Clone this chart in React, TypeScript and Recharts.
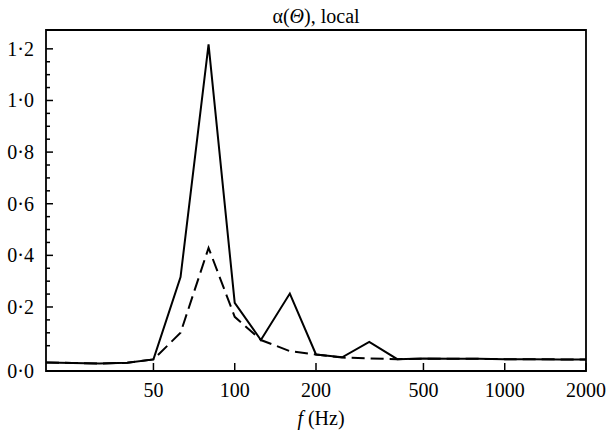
import { Label, Line, LineChart, ReferenceArea, XAxis, YAxis } from 'recharts'

const freqs = [20, 25, 31.5, 40, 50, 63, 80, 100, 125, 160, 200, 250, 315, 400, 500, 630, 800, 1000, 1250, 1600, 2000]
const alphaSolid = [-0.015, -0.017, -0.019, -0.016, -0.003, 0.316, 1.217, 0.216, 0.072, 0.252, 0.016, 0.005, 0.065, -0.002, 0.0, -0.001, -0.001, -0.002, -0.002, -0.003, -0.003]
const alphaDashed = [-0.015, -0.017, -0.019, -0.016, -0.003, 0.1, 0.429, 0.162, 0.072, 0.029, 0.016, 0.004, 0.001, -0.002, 0.0, -0.001, -0.001, -0.002, -0.002, -0.003, -0.003]

const xTicks = [50, 100, 200, 500, 1000, 2000]
const yMajorTicks = [0, 0.2, 0.4, 0.6, 0.8, 1.0, 1.2]
const yMinorTicks = [0.05, 0.1, 0.15, 0.25, 0.3, 0.35, 0.45, 0.5, 0.55, 0.65, 0.7, 0.75, 0.85, 0.9, 0.95, 1.05, 1.1, 1.15]
const xDomain = [20, 2000]
const yDomain = [-0.048, 1.273]

const data = freqs.map((f, i) => ({ f, solid: alphaSolid[i], dashed: alphaDashed[i] }))

const font = '"Liberation Serif", "Times New Roman", serif'

const fmt = (v: number) => v.toFixed(1).replace('.', '·')

function YTick(props: any) {
    const { x, y, payload } = props
    const v = payload.value
    const major = yMajorTicks.some((m) => Math.abs(m - v) < 1e-6)
    if (v === 0) {
        // the 0·0 label sits on the bottom frame line
        return (
            <text x={x - 12} y={371} dy='0.35em' textAnchor='end' fontFamily={font} fontSize={20} fill='#000'>
                {fmt(v)}
            </text>
        )
    }
    return (
        <g>
            <line x1={x} x2={x + (major ? 7 : 4)} y1={y} y2={y} stroke='#000' strokeWidth={1.5} />
            {major && (
                <text x={x - 12} y={y} dy='0.35em' textAnchor='end' fontFamily={font} fontSize={20} fill='#000'>
                    {fmt(v)}
                </text>
            )}
        </g>
    )
}

function XTick(props: any) {
    const { x, y, payload } = props
    return (
        <g>
            <line x1={x} x2={x} y1={y} y2={y - 8} stroke='#000' strokeWidth={1.5} />
            <text x={x} y={y + 26} textAnchor='middle' fontFamily={font} fontSize={20} fill='#000'>
                {payload.value}
            </text>
        </g>
    )
}

export default function App() {
    return (
        <div style={{ position: 'absolute', left: 0, top: 0, background: '#fff' }}>
            <LineChart width={611} height={436} data={data} margin={{ top: 30, right: 25, bottom: 0, left: 0 }}>
                <XAxis
                    dataKey='f'
                    type='number'
                    scale='log'
                    domain={xDomain}
                    ticks={xTicks}
                    interval={0}
                    allowDataOverflow
                    height={65}
                    tickSize={0}
                    tickMargin={0}
                    tickLine={false}
                    axisLine={false}
                    tick={<XTick />}
                >
                    <Label
                        content={(p: any) => {
                            const vb = p.viewBox
                            return (
                                <text x={vb.x + vb.width / 2 + 5} y={425} textAnchor='middle' fontFamily={font} fontSize={20} fill='#000'>
                                    <tspan fontStyle='italic'>f</tspan> (Hz)
                                </text>
                            )
                        }}
                    />
                </XAxis>
                <YAxis
                    type='number'
                    domain={yDomain}
                    ticks={[...yMajorTicks, ...yMinorTicks]}
                    interval={0}
                    allowDataOverflow
                    width={46}
                    tickSize={0}
                    tickMargin={0}
                    tickLine={false}
                    axisLine={false}
                    tick={<YTick />}
                />
                <ReferenceArea
                    x1={xDomain[0]}
                    x2={xDomain[1]}
                    y1={yDomain[0]}
                    y2={yDomain[1]}
                    fill='none'
                    stroke='#000'
                    strokeWidth={1.8}
                    ifOverflow='visible'
                >
                    <Label
                        content={(p: any) => {
                            const vb = p.viewBox
                            return (
                                <text x={vb.x + vb.width / 2} y={vb.y - 7} textAnchor='middle' fontFamily={font} fontSize={20} fill='#000'>
                                    α(<tspan fontStyle='italic'>Θ</tspan>), local
                                </text>
                            )
                        }}
                    />
                </ReferenceArea>
                <Line
                    dataKey='solid'
                    stroke='#000'
                    strokeWidth={2}
                    dot={false}
                    isAnimationActive={false}
                    type='linear'
                />
                <Line
                    dataKey='dashed'
                    stroke='#000'
                    strokeWidth={2}
                    strokeDasharray='13 6'
                    dot={false}
                    isAnimationActive={false}
                    type='linear'
                />
            </LineChart>
        </div>
    )
}
